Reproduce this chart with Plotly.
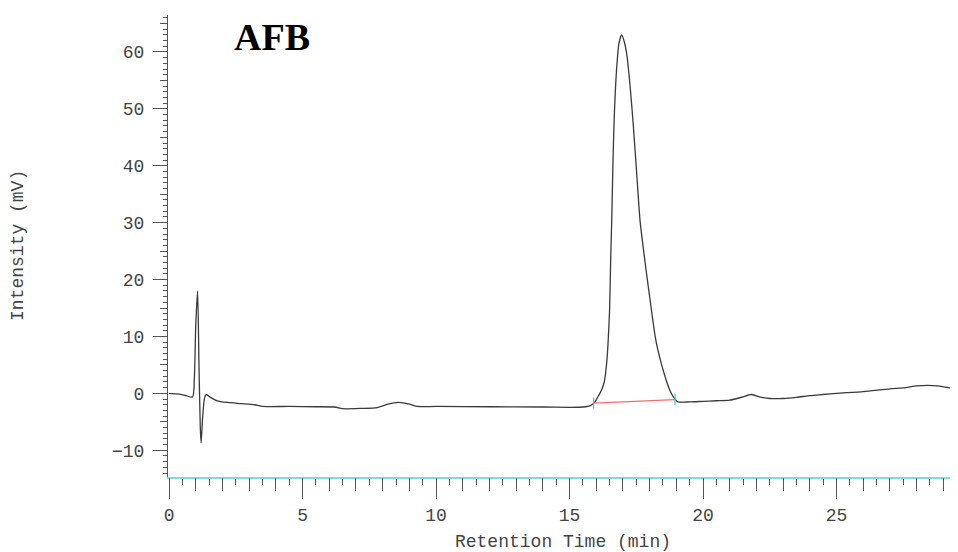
import plotly.graph_objects as go

# chromatogram trace (min, mV)
time_min = [
    0.0, 0.3, 0.6, 0.88, 0.95, 1.0, 1.07, 1.12, 1.17, 1.2, 1.26, 1.33, 1.4,
    1.55, 1.8, 2.2, 2.7, 3.2, 3.5, 4.5, 5.5, 6.2, 6.5, 7.2, 7.8, 8.2, 8.6,
    9.0, 9.3, 10.0, 12.0, 14.0, 15.0, 15.5, 15.8, 15.95, 16.1, 16.2, 16.3,
    16.4, 16.45, 16.5, 16.54, 16.58, 16.62, 16.67, 16.76, 16.85, 16.95,
    17.05, 17.14, 17.27, 17.39, 17.51, 17.64, 17.76, 17.88, 18.0, 18.1,
    18.2, 18.3, 18.45, 18.6, 18.76, 18.9, 19.06, 19.5, 20.0, 20.5, 21.0,
    21.5, 21.8, 22.1, 22.5, 23.0, 23.5, 24.0, 24.5, 25.0, 26.0, 27.0, 27.5,
    28.0, 28.4, 28.8, 29.2, 29.6,
]
intensity_mv = [
    0.0, -0.1, -0.35, -0.65, 3.0, 12.0, 18.0, 5.0, -6.0, -8.7, -4.0, -0.8,
    -0.2, -0.7, -1.3, -1.6, -1.8, -2.0, -2.3, -2.3, -2.35, -2.4, -2.7, -2.65,
    -2.5, -1.9, -1.6, -1.9, -2.3, -2.3, -2.35, -2.4, -2.45, -2.4, -2.1, -1.5,
    -0.3, 0.6, 2.0, 5.8, 9.5, 14.6, 23.4, 30.4, 39.2, 48.0, 56.8, 61.5,
    63.0, 61.8, 59.7, 53.9, 47.0, 39.0, 30.4, 25.6, 21.2, 17.0, 13.5, 10.2,
    7.8, 5.0, 2.6, 0.5, -0.7, -1.5, -1.5, -1.4, -1.3, -1.2, -0.6, -0.2,
    -0.6, -0.9, -0.9, -0.7, -0.4, -0.2, 0.0, 0.3, 0.8, 0.95, 1.3, 1.4, 1.3,
    1.0, 0.9,
]

# integration baseline of the main peak
baseline_t = [15.9, 18.95]
baseline_mv = [-1.7, -1.1]

x_range = [-0.04, 29.55]
y_range = [-14.7, 66.5]

mono = "Liberation Mono, Courier New, monospace"
grey = "#444444"
tick_grey = "#555555"

fig = go.Figure()

fig.add_trace(go.Scatter(
    x=time_min, y=intensity_mv, mode="lines",
    line=dict(color="#3a3a3a", width=1.3, shape="spline", smoothing=0.6),
    showlegend=False, hoverinfo="x+y",
))

fig.add_trace(go.Scatter(
    x=baseline_t, y=baseline_mv, mode="lines",
    line=dict(color="#f07070", width=1.2),
    showlegend=False,
))

fig.add_trace(go.Scatter(
    x=baseline_t, y=baseline_mv, mode="markers",
    marker=dict(symbol="line-ns", size=8,
                line=dict(color="#3cc6c0", width=1.2)),
    showlegend=False, xaxis="x2", yaxis="y2",
))

# the page body has an 8px margin, so the figure is sized to fit the window
fig.update_layout(
    width=950,
    height=544,
    margin=dict(l=160, r=0, t=7, b=75),
    plot_bgcolor="white",
    paper_bgcolor="white",
    font=dict(family=mono, size=18, color=grey),
    xaxis=dict(
        range=x_range, automargin=False,
        showgrid=False, zeroline=False,
        showline=True, linecolor="#7fdcdc", linewidth=2,
        ticks="outside", tick0=0, dtick=5, ticklen=20, tickwidth=1.3,
        tickcolor=tick_grey,
        minor=dict(ticks="outside", dtick=0.5, tick0=0, ticklen=6,
                   tickcolor=tick_grey, tickwidth=1.2),
        ticklabelstandoff=0,
        title=dict(text="Retention Time (min)", standoff=12,
                   font=dict(family=mono, size=18, color=grey)),
    ),
    xaxis2=dict(
        range=x_range, overlaying="x", anchor="y", side="bottom",
        automargin=False,
        showgrid=False, zeroline=False, showline=False,
        ticks="outside", tick0=0, dtick=1, ticklen=13, tickwidth=1.2,
        tickcolor=tick_grey, showticklabels=False,
    ),
    yaxis=dict(
        range=y_range, automargin=False,
        showgrid=False, zeroline=False,
        showline=True, linecolor=tick_grey, linewidth=1.2,
        ticks="outside", tick0=0, dtick=10, ticklen=14, tickwidth=1.2,
        tickcolor=tick_grey,
        minor=dict(ticks="outside", dtick=1, tick0=0, ticklen=4,
                   tickcolor=tick_grey, tickwidth=1),
        ticklabelstandoff=5,
    ),
    yaxis2=dict(
        range=y_range, overlaying="y", anchor="x", side="left",
        automargin=False,
        showgrid=False, zeroline=False, showline=False,
        ticks="outside", tick0=0, dtick=5, ticklen=7, tickwidth=1,
        tickcolor=tick_grey, showticklabels=False,
    ),
    annotations=[
        dict(
            text="<b>AFB</b>", x=0.081, y=0.952, xref="paper", yref="paper",
            xanchor="left", yanchor="middle", showarrow=False,
            font=dict(family="Liberation Serif, Times New Roman, serif",
                      size=38, color="black"),
        ),
        dict(
            text="Intensity (mV)", textangle=-90,
            x=(10 - 160) / 790, y=0.5, xref="paper", yref="paper",
            xanchor="center", yanchor="middle", showarrow=False,
            font=dict(family=mono, size=18, color=grey),
        ),
    ],
)

fig.write_html("out.html")
